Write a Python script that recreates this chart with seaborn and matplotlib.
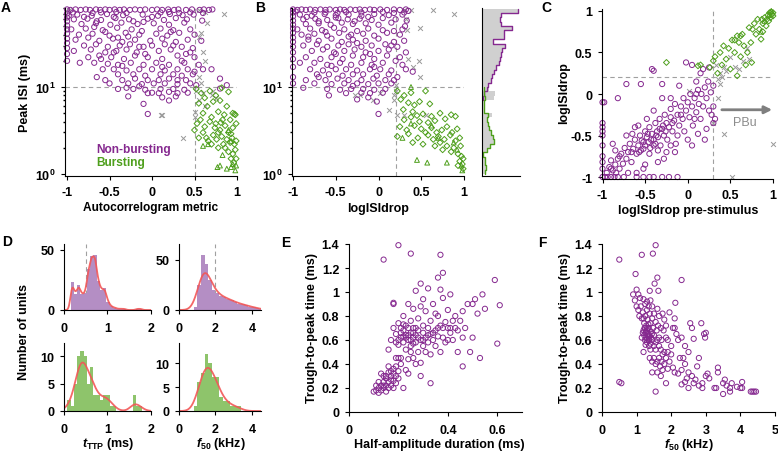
import numpy as np
import matplotlib
matplotlib.use('Agg')
import matplotlib.pyplot as plt
import seaborn as sns
from matplotlib.ticker import FuncFormatter, NullFormatter, LogLocator

# ---------------- DATA ----------------
# Panel A: (autocorrelogram metric, peak ISI ms)
A_NONBURST = [
    (-1,78),(-0.96,77),(-0.9,78),(-0.84,77),(-0.78,78),(-0.73,77),(-0.66,78),(-0.61,77),(-0.55,78),(-0.5,77),
    (-0.44,78),(-0.38,77),(-0.33,78),(-0.26,77),(-0.2,78),(-0.14,77),(-0.08,78),(0.0,77),(0.06,78),(0.12,77),
    (0.19,78),(0.26,77),(0.31,78),(0.4,77),(0.47,78),(0.56,77),(0.61,78),(0.67,77),(0.71,78),(-0.6,72),(-0.3,71),(0.1,72),
    (-1,70),(-1,63),(-1,57),(-1,51),(-1,46),(-1,41),(-1,36),(-1,32),(-1,28),(-1,24),(-1,20),(-0.98,66),
    (-0.88,68),(-0.71,66),(-0.53,69),(-0.34,67),(-0.11,68),(0.07,66),(0.21,69),(0.36,67),(0.49,68),
    (-0.92,60),(-0.76,61),(-0.6,59),(-0.43,62),(-0.27,60),(-0.05,61),(0.14,59),(0.28,62),(0.41,60),(0.59,58),
    (-0.83,53),(-0.66,54),(-0.49,52),(-0.36,55),(-0.17,53),(0.02,54),(0.2,52),(0.38,55),(-0.1,56),
    (-0.95,46),(-0.78,47),(-0.58,45),(-0.41,48),(-0.24,46),(-0.12,44),(0.1,47),(0.25,45),(0.45,46),(-0.68,49),
    (-0.86,40),(-0.7,41),(-0.5,39),(-0.31,42),(-0.15,40),(0.05,41),(0.18,39),(0.32,42),(0.5,40),(-0.4,37),
    (-0.9,35),(-0.62,34),(-0.46,36),(-0.35,33),(-0.2,35),(-0.02,34),(0.12,36),(0.28,33),(0.42,35),(0.58,34),
    (-0.8,30),(-0.66,31),(-0.52,29),(-0.38,30),(-0.26,31),(-0.1,29),(0.0,30),(0.15,31),(0.35,29),(0.48,28),
    (-0.92,26),(-0.72,27),(-0.55,25),(-0.42,26),(-0.3,27),(-0.18,25),(0.08,26),(0.22,27),(0.45,25),(-0.62,23),
    (-0.75,22),(-0.6,21),(-0.48,22),(-0.33,21),(-0.2,23),(-0.05,22),(0.12,21),(0.3,23),(0.5,22),(0.4,24),
    (-0.85,19),(-0.68,19),(-0.4,18),(-0.25,19),(-0.1,18),(0.05,19),(0.2,18),(0.38,19),(0.55,18),
    (-0.58,16),(-0.45,16),(-0.3,15.5),(-0.15,16),(0.0,16),(0.15,15.5),(0.3,16),(0.42,16),(0.6,16),(0.7,16),
    (-0.4,14),(-0.22,14),(-0.08,13.5),(0.1,14),(0.25,14),(0.35,13.5),(0.48,14),
    (-0.55,12),(-0.35,12),(-0.2,12.5),(-0.05,12),(0.08,12),(0.2,12.5),(0.4,12),(0.8,12.5),
    (-0.5,11),(-0.28,11),(-0.12,10.8),(0.02,11),(0.15,11),(0.3,10.8),(0.45,11),(0.88,10.5),
    (-0.4,9.5),(-0.22,9.5),(-0.08,9.3),(0.1,9.5),(0.25,9.5),(0.38,9.3),(0.8,9.6),
    (-0.05,8.5),(0.0,8.6),(0.08,8.5),(0.3,8.5),(0.42,8.6),(0.2,8.8),
    (-0.28,7.8),(0.12,7.6),(0.28,7.8),(-0.1,6.4),(0.2,7),(-0.05,4.9),
    (-0.93,72),(-0.8,64),(-0.65,57),(-0.45,64),(-0.22,57),(0.0,64),(0.32,71),(-0.55,43),(-0.28,38),(0.22,43),
    (-0.75,37),(-0.15,29),(0.25,30),(-0.45,25),(-0.08,24),(0.35,20),(-0.52,18.5),(0.12,17),(-0.35,17.5),(0.5,15),
    (-0.65,13),(0.3,12),(-0.15,10.2),(0.52,10.5),(-0.3,9.8),(-0.7,71),(-0.42,73),(0.2,73),(0.45,72),(0.6,71),
]
A_BURST_DIAMOND = [
    (0.52,9.5),(0.58,8.5),(0.62,7.5),(0.68,9),(0.75,8),(0.82,9.8),(0.9,8.8),(0.55,6.5),(0.65,6),(0.72,6.8),
    (0.8,7),(0.88,6),(0.95,5),(0.6,5),(0.7,4.5),(0.78,5.2),(0.85,4.8),(0.92,4.2),(0.98,4.8),(0.53,3.8),
    (0.62,3.5),(0.68,4),(0.75,3.8),(0.8,3.2),(0.86,3.6),(0.9,3),(0.95,3.4),(0.99,3.8),(0.55,2.6),(0.6,3),
    (0.66,2.4),(0.72,2.8),(0.76,2.5),(0.78,3),(0.82,2.7),(0.84,2.2),(0.88,2.5),(0.92,2.3),(0.94,2.6),(0.97,2.2),
    (0.7,2.2),(0.78,2),(0.86,2),(0.9,1.8),(0.95,1.7),(0.98,1.9),(0.93,1.5),(0.96,1.35),(0.99,1.5),(0.74,3.4),
    (0.83,4.2),(0.57,4.2),(0.5,3.2),(0.64,2.6),(0.97,4.9),(0.99,2.4),(0.93,2.9),(0.81,3.9),
]
A_BURST_TRI = [(0.77,1.2),(0.8,1.25),(0.88,1.15),(0.93,1.2),(0.95,1.3),(0.98,1.1),(0.99,1.25),
               (0.83,1.65),(0.6,2.1),(0.66,2.2),(0.93,2.4),(0.9,3.2)]
A_OTHER = [(-0.98,77),(0.55,77),(0.62,72),(0.85,70),(0.65,55),(0.58,42),(0.55,38),(0.6,25),(0.62,20),
           (0.55,13),(0.58,11),(0.52,9),(0.6,8.5),(0.7,8),(0.75,7.5),(0.55,7),(0.62,6),(0.5,5.2),(0.5,4.5),
           (0.1,4.8),(0.12,4.8),(0.37,2.6),(0.72,9)]

# Panel B: (logISIdrop, peak ISI ms)
B_NONBURST = [
    (-1,78),(-0.95,77),(-0.9,78),(-0.85,77),(-0.8,78),(-0.74,77),(-0.68,78),(-0.62,77),(-0.57,78),(-0.5,77),
    (-0.45,78),(-0.4,77),(-0.33,78),(-0.27,77),(-0.22,78),(-0.16,77),(-0.1,78),(-0.05,77),(0.02,78),(0.1,77),
    (0.18,78),(0.25,77),(0.32,78),(0.35,75),(-0.62,72),(-0.48,71),(-0.2,72),
    (-1,72),(-1,65),(-1,58),(-1,52),(-1,47),(-1,42),(-1,37),(-1,33),(-1,29),(-1,25),(-1,21),(-1,17),(-1,13),(-1,11),
    (-0.92,68),(-0.78,66),(-0.63,69),(-0.5,67),(-0.35,68),(-0.2,66),(-0.05,69),(0.12,67),(0.28,68),
    (-0.88,60),(-0.74,61),(-0.6,59),(-0.47,62),(-0.36,60),(-0.22,61),(-0.08,59),(0.05,62),(0.2,60),(0.33,58),
    (-0.85,53),(-0.7,54),(-0.56,52),(-0.43,55),(-0.3,53),(-0.15,54),(0.0,52),(0.15,55),(0.31,50),
    (-0.95,46),(-0.8,47),(-0.66,45),(-0.52,48),(-0.4,46),(-0.25,44),(-0.12,47),(0.05,45),(0.28,46),
    (-0.9,40),(-0.75,41),(-0.6,39),(-0.46,42),(-0.32,40),(-0.18,41),(-0.05,39),(0.1,42),(0.25,40),
    (-0.82,35),(-0.7,34),(-0.55,36),(-0.43,33),(-0.3,35),(-0.15,34),(0.0,36),(0.18,33),(0.3,34),
    (-0.88,30),(-0.72,31),(-0.6,29),(-0.47,30),(-0.35,31),(-0.2,29),(-0.08,30),(0.08,31),(0.22,29),
    (-0.78,26),(-0.65,27),(-0.52,25),(-0.4,26),(-0.28,27),(-0.15,25),(0.0,26),(0.12,27),(0.32,25),
    (-0.85,22),(-0.68,21),(-0.55,22),(-0.42,21),(-0.3,23),(-0.18,22),(-0.05,21),(0.1,23),(0.25,22),
    (-0.75,19),(-0.6,18),(-0.45,19),(-0.32,18),(-0.2,19),(-0.08,18),(0.05,19),(0.28,18),
    (-0.8,16),(-0.65,15.5),(-0.5,16),(-0.38,16),(-0.25,15.5),(-0.1,16),(0.02,16),(0.15,15.5),(0.32,16),
    (-0.72,14),(-0.58,14),(-0.42,13.5),(-0.3,14),(-0.18,14),(-0.02,13.5),(0.12,14),(0.22,13),
    (-0.85,12),(-0.62,12),(-0.48,12.5),(-0.35,12),(-0.2,12),(-0.06,12.5),(0.08,12),
    (-0.75,11),(-0.55,10.8),(-0.4,11),(-0.25,11),(-0.12,10.8),(0.0,11),(0.15,11),
    (-0.6,9.5),(-0.45,9.3),(-0.32,9.5),(-0.18,9.5),(-0.05,9.3),(0.08,9.5),
    (-0.38,8.5),(-0.2,8.6),(-0.1,8.5),(0.05,8.6),(-0.58,8),(-0.12,7.6),(-0.25,7.2),(-0.02,6.8),(0.0,4.9),
    (-0.97,74),(-0.84,64),(-0.7,57),(-0.5,63),(-0.28,57),(-0.12,64),(0.18,71),(-0.62,43),(-0.35,38),(0.18,44),
    (-0.82,38),(-0.25,32),(0.15,30),(-0.5,24),(-0.1,24),(0.2,20),(-0.55,17.5),(-0.05,17),(-0.92,19),(0.4,15),
    (-0.7,13),(0.18,12),(-0.3,10.3),(-0.88,9.8),(-0.75,72),(-0.38,73),(0.05,73),(0.3,72),
]
B_BURST_DIAMOND = [
    (0.22,9),(0.3,8),(0.38,8.6),(0.55,9),(0.26,7.2),(0.35,6.6),(0.42,6.2),(0.48,6.8),(0.6,6.4),(0.29,5.5),
    (0.4,5.2),(0.45,4.7),(0.52,4.9),(0.62,4.6),(0.72,5),(0.85,4.8),(0.3,4.2),(0.38,4.5),(0.48,4),(0.58,3.9),
    (0.66,4.1),(0.78,4.3),(0.9,4.6),(0.25,3.5),(0.33,3.2),(0.42,3.6),(0.5,3.3),(0.55,3.0),(0.62,3.4),(0.68,3.0),
    (0.74,3.2),(0.8,3.5),(0.86,3.0),(0.92,3.3),(0.22,2.7),(0.35,2.9),(0.46,2.6),(0.58,2.8),(0.64,2.5),(0.7,2.7),
    (0.77,2.5),(0.84,2.8),(0.9,2.4),(0.95,2.6),(0.4,2.3),(0.52,2.2),(0.66,2.1),(0.72,2.3),(0.8,2.1),(0.88,2.0),
    (0.96,2.1),(0.75,1.9),(0.85,1.8),(0.93,1.7),(0.97,1.6),(0.99,1.5),(0.95,1.4),(0.98,1.3),(0.99,1.15),(0.93,1.25),
]
B_BURST_TRI = [(0.38,10),(0.38,3.8),(0.62,3.6),(0.28,2.6),(0.88,2.3),(0.92,1.9),(0.45,1.45),(0.57,1.35),
               (0.8,1.35),(0.98,1.1),(0.97,1.25),(0.7,2.6)]
B_OTHER = [(0.3,77),(0.38,77),(0.64,77),(0.88,70),(0.33,45),(0.48,48),(0.35,21),(0.47,20),(0.4,17),(0.2,10.5),
           (-0.28,8),(-0.22,8),(-0.06,7),(0.02,8.5),(0.18,8.2),(0.12,5.5),(0.22,4.8),(0.3,4.8),(0.55,4.8),
           (0.48,13),(0.32,60),(0.2,9),(0.18,7)]

# Panel B marginal histogram: log10(peak ISI) bins of 0.05 decade
HIST_LOG_ISI_START = 0.0
HIST_BIN = 0.05
HIST_ALL = [8,12,10,8,4,14,24,35,32,27,22,18,14,30,6,5,6,35,38,22,
            19,26,30,36,42,50,55,57,62,70,32,68,66,92,56,54,58,109]
HIST_NONBURST_START = 0.85
HIST_NONBURST = [3,5,14,19,26,30,36,42,50,55,57,62,70,32,68,66,92,56,54,58,109]
HIST_BURST_START = 0.0
HIST_BURST = [8,12,10,8,4,14,24,35,32,27,22,18,14,19,6,5,6,9,6,5]

# Panel C: (logISIdrop pre-stimulus, logISIdrop)
C_NONBURST = [
    (-1,-1),(-0.97,-1),(-0.94,-1),(-0.9,-1),(-0.86,-1),(-0.82,-1),(-0.75,-1),(-0.6,-1),(-0.52,-1),(-0.45,-1),
    (-0.4,-1),(-0.3,-1),(-0.22,-1),(-0.12,-1),
    (-1,-0.9),(-1,-0.82),(-1,-0.75),(-1,-0.62),(-1,-0.5),(-1,-0.45),(-1,-0.4),(-1,-0.35),(-1,-0.1),
    (-0.95,-0.95),(-0.92,-0.88),(-0.9,-0.8),(-0.88,-0.92),(-0.85,-0.85),(-0.82,-0.78),(-0.8,-0.9),(-0.78,-0.72),
    (-0.76,-0.84),(-0.74,-0.65),(-0.72,-0.78),(-0.7,-0.7),(-0.68,-0.6),(-0.66,-0.82),(-0.64,-0.66),(-0.62,-0.55),
    (-0.6,-0.72),(-0.58,-0.62),(-0.56,-0.5),(-0.55,-0.68),(-0.52,-0.58),(-0.5,-0.45),(-0.5,-0.62),(-0.48,-0.52),
    (-0.46,-0.58),(-0.45,-0.4),(-0.44,-0.65),(-0.42,-0.48),(-0.4,-0.55),(-0.38,-0.35),(-0.38,-0.6),(-0.36,-0.45),
    (-0.35,-0.52),(-0.33,-0.3),(-0.32,-0.62),(-0.3,-0.42),(-0.28,-0.5),(-0.27,-0.25),(-0.25,-0.35),(-0.24,-0.55),
    (-0.22,-0.4),(-0.2,-0.28),(-0.2,-0.18),(-0.18,-0.45),(-0.16,-0.32),(-0.15,-0.12),(-0.14,-0.6),(-0.12,-0.25),
    (-0.1,-0.38),(-0.08,-0.15),(-0.06,-0.3),(-0.05,-0.05),(-0.04,-0.45),(-0.02,-0.2),(0.0,-0.1),(0.02,-0.28),
    (0.03,0.0),(0.05,-0.15),(0.06,-0.38),(0.08,-0.05),(0.1,-0.22),(0.12,0.05),(0.13,-0.12),(0.15,-0.3),(0.16,0.0),
    (0.18,-0.15),(0.2,0.08),(0.22,-0.05),(0.24,0.15),(0.25,-0.2),(0.27,0.02),(0.3,0.1),(0.28,-0.25),(0.3,-0.15),
    (0.32,-0.3),
    (-0.98,-0.1),(-0.82,-0.05),(-0.72,0.12),(-0.55,0.12),(-0.42,0.3),(-0.4,0.28),(-0.3,0.12),(-0.2,-0.05),
    (-0.1,0.1),(-0.02,0.38),(0.05,0.35),(0.1,0.15),(0.15,0.25),(0.18,0.3),(0.25,0.32),(-0.6,-0.95),(-0.52,-0.9),
    (-0.35,-0.82),(-0.5,-0.85),(-0.28,-0.78),(-0.25,-0.7),(-0.15,-0.7),(0.0,-0.55),(0.05,-0.62),(0.12,-0.48),
    (0.2,-0.55),(0.3,-0.35),(-0.7,-0.95),(-0.85,-0.68),(-0.62,-0.4),(-0.72,-0.5),(-0.88,-0.6),(0.22,-0.42),
    (-0.58,-0.38),(-0.48,-0.3),(-0.4,-0.2),(-0.3,-0.05),(-0.12,-0.5),(0.08,-0.3),(-0.65,-0.48),(-0.45,-0.72),
    (-0.35,-0.68),(0.1,0.0),(-0.2,-0.62),
    (-0.54,-0.56),(-0.47,-0.48),(-0.43,-0.55),(-0.37,-0.5),(-0.33,-0.42),(-0.29,-0.38),(-0.52,-0.66),(-0.57,-0.7),
    (-0.4,-0.62),(-0.26,-0.45),(-0.18,-0.35),(-0.08,-0.25),(-0.66,-0.7),(-0.8,-0.75),(-0.9,-0.9),(-0.84,-0.95),
]
C_BURST_DIAMOND = [
    (-0.25,0.38),(0.12,0.34),(0.15,0.35),(0.26,0.32),(0.3,0.4),(0.32,0.45),(0.35,0.25),(0.38,0.5),(0.4,0.35),
    (0.42,0.58),(0.45,0.42),(0.48,0.55),(0.5,0.3),(0.52,0.65),(0.55,0.5),(0.58,0.7),(0.6,0.62),(0.62,0.45),
    (0.64,0.72),(0.66,0.58),(0.68,0.35),(0.7,0.5),(0.72,0.8),(0.74,0.62),(0.75,0.38),(0.78,0.85),(0.8,0.72),
    (0.82,0.9),(0.84,0.78),(0.86,0.66),(0.88,0.85),(0.9,0.92),(0.92,0.82),(0.94,0.95),(0.95,0.88),(0.96,0.98),
    (0.97,0.92),(0.98,0.99),(0.99,0.96),(1.0,0.98),(1.0,0.94),(0.93,0.9),(0.87,0.9),(0.58,0.22),(0.62,0.7),
    (0.88,0.75),(0.76,0.78),(0.55,0.65),
]
C_BURST_TRI = [(0.86,0.75),(0.95,0.95),(0.98,1.0),(0.9,0.88)]
C_OTHER = [(0.33,0.35),(0.38,0.25),(0.4,0.2),(0.42,0.32),(0.36,0.18),(0.45,0.28),(0.5,0.45),(0.55,0.32),
           (0.6,0.3),(0.65,0.4),(0.7,0.55),(0.35,-0.05),(0.3,-0.35),(0.42,-0.48),(1.0,-0.6),(0.52,-1.0),
           (0.02,0.04),(0.38,0.12),(0.72,0.42)]

# Panel D: binned counts
TTP_BIN = 0.075
F50_BIN = 0.2
D_TTP_NONBURST_START = 0.15
D_TTP_NONBURST = [23,13,21,13,14,34,45,46,24,17,18,7,3,2,1,1,1,0,0,0,1,1]
D_F50_NONBURST_START = 0.8
D_F50_NONBURST = [3,25,55,46,30,20,17,14,13,11,10,8,6,6,5,3,3,2,1]
D_TTP_BURST_START = 0.075
D_TTP_BURST = [2,1,5,10,11,10,5,8,3,3,2,3,3,1,1,0,0,0,0,0,3,1,1]
D_F50_BURST_START = 0.8
D_F50_BURST = [1,6,8,12,10,7,7,3,2,2,1,1,1]

# Panel E: (half-amplitude duration ms, trough-to-peak ms)
E_UNITS = [
    (0.1,0.17),(0.11,0.18),(0.12,0.2),(0.12,0.16),(0.13,0.22),(0.13,0.18),(0.14,0.25),(0.14,0.2),(0.15,0.17),
    (0.15,0.22),(0.15,0.28),(0.16,0.2),(0.16,0.25),(0.16,0.33),(0.17,0.22),(0.17,0.3),(0.17,0.27),(0.18,0.26),
    (0.18,0.32),(0.18,0.36),(0.19,0.3),(0.19,0.38),(0.2,0.28),(0.2,0.34),(0.13,0.32),(0.12,0.25),(0.21,0.4),
    (0.16,0.38),(0.14,0.3),(0.11,0.22),(0.19,0.24),
    (0.16,0.52),(0.17,0.6),(0.18,0.7),(0.18,0.9),(0.19,0.65),(0.2,0.56),(0.2,0.74),(0.21,0.62),(0.21,0.45),
    (0.22,0.68),(0.22,0.8),(0.22,0.58),(0.23,0.52),(0.23,0.72),(0.23,0.64),(0.24,0.6),(0.24,0.9),(0.24,0.44),
    (0.25,0.66),(0.25,0.76),(0.25,0.55),(0.26,0.62),(0.26,0.86),(0.26,0.7),(0.27,0.58),(0.27,0.64),(0.27,1.01),
    (0.28,0.68),(0.28,0.5),(0.28,0.78),(0.29,0.6),(0.29,0.88),(0.29,0.41),(0.3,0.66),(0.3,0.72),(0.3,0.94),
    (0.3,0.55),(0.31,0.62),(0.31,0.84),(0.32,0.7),(0.32,0.58),(0.32,1.03),(0.33,0.65),(0.33,0.76),(0.33,0.48),
    (0.34,0.6),(0.34,0.9),(0.35,0.68),(0.35,0.55),(0.36,0.8),(0.36,0.63),(0.37,0.72),(0.37,1.02),(0.37,0.5),
    (0.38,0.62),(0.38,0.95),(0.38,0.7),(0.39,0.58),(0.4,0.7),(0.4,0.85),(0.41,0.66),(0.41,0.98),(0.42,0.76),
    (0.42,0.6),(0.43,0.8),(0.44,0.68),(0.45,0.76),(0.46,0.62),(0.46,0.84),(0.47,0.7),(0.48,0.9),(0.5,0.9),
    (0.5,0.62),(0.51,0.94),(0.52,0.82),(0.53,0.45),(0.54,0.98),(0.55,0.86),(0.49,0.5),(0.44,0.5),(0.46,0.38),
    (0.4,0.6),(0.36,0.7),(0.26,0.45),(0.27,0.4),(0.21,0.66),(0.2,0.6),(0.19,0.45),(0.23,0.35),(0.24,0.32),
    (0.22,0.2),(0.29,0.3),(0.33,0.24),(0.31,0.5),(0.35,0.82),(0.39,0.75),(0.28,0.62),(0.24,0.7),(0.26,0.57),
    (0.14,1.27),(0.2,1.39),(0.25,1.32),(0.37,1.31),(0.38,1.16),(0.36,1.12),(0.59,1.1),(0.61,0.89),(0.6,0.57),
    (0.18,0.91),(0.29,1.07),(0.2,0.45),(0.22,0.73),
    (0.23,0.62),(0.25,0.6),(0.26,0.66),(0.24,0.64),(0.22,0.63),(0.27,0.7),(0.21,0.7),(0.19,0.58),(0.25,0.5),
    (0.3,0.6),(0.32,0.64),(0.34,0.66),(0.43,0.7),(0.41,0.7),(0.15,0.3),(0.17,0.34),(0.14,0.22),(0.18,0.2),
]

# Panel F: (f50 kHz, trough-to-peak ms)
F_UNITS = [
    (0.5,1.27),(0.5,0.25),(0.56,0.24),(0.97,1.15),(1.15,1.31),(1.47,1.32),(1.55,1.39),(1.52,1.07),(1.6,1.12),
    (2.3,1.1),(1.63,1.01),(1.38,1.01),(1.0,1.02),(1.05,0.98),(0.9,0.98),(1.1,0.95),(1.2,0.94),(1.25,0.9),
    (1.3,0.92),(1.4,0.93),(1.45,0.88),(1.6,0.86),(1.75,0.82),(1.8,0.77),(1.05,0.85),(1.08,0.8),(1.12,0.88),
    (1.15,0.78),(1.18,0.83),(1.22,0.74),(1.25,0.8),(1.28,0.72),(1.3,0.85),(1.32,0.77),(1.35,0.7),(1.38,0.82),
    (1.4,0.74),(1.42,0.67),(1.45,0.78),(1.48,0.7),(1.5,0.64),(1.55,0.75),(1.58,0.68),(1.62,0.72),(1.65,0.62),
    (1.7,0.7),(1.72,0.6),(1.78,0.68),(1.85,0.72),(1.2,0.68),(1.22,0.64),(1.24,0.6),(1.26,0.66),(1.28,0.62),
    (1.3,0.58),(1.32,0.65),(1.34,0.6),(1.36,0.55),(1.38,0.63),(1.4,0.57),(1.42,0.62),(1.25,0.7),(1.3,0.68),
    (1.35,0.65),(1.15,0.62),(1.18,0.66),(1.45,0.6),(1.5,0.55),(1.55,0.58),(1.6,0.6),(1.65,0.55),(1.7,0.52),
    (1.75,0.48),(1.8,0.5),(1.5,0.45),(1.55,0.4),(1.6,0.42),(1.68,0.38),(1.72,0.42),(1.8,0.4),(1.85,0.45),
    (1.9,0.36),(1.95,0.42),(2.0,0.48),(1.9,0.6),(2.0,0.55),(2.05,0.7),(2.1,0.7),(2.15,0.65),(2.1,0.78),
    (2.12,0.91),(2.2,0.6),(2.05,0.37),(2.1,0.33),(2.2,0.32),(2.3,0.35),(2.35,0.45),(2.4,0.4),(2.25,0.45),
    (2.3,0.62),(2.4,0.55),(2.5,0.5),(2.55,0.74),(2.6,0.7),(2.65,0.61),(2.87,0.74),(2.95,0.65),(3.0,0.66),
    (2.98,0.62),(2.8,0.45),(2.75,0.38),(2.6,0.3),(2.5,0.33),(2.45,0.28),(2.4,0.25),(2.3,0.23),(2.5,0.2),
    (2.65,0.24),(2.7,0.27),(2.8,0.22),(2.9,0.24),(2.9,0.2),(3.0,0.3),(3.05,0.32),(3.1,0.28),(3.3,0.2),
    (3.25,0.2),(3.35,0.37),(3.35,0.33),(3.5,0.24),(3.55,0.27),(3.5,0.15),(3.6,0.22),(3.7,0.2),(3.7,0.17),
    (3.75,0.24),(3.9,0.21),(4.0,0.2),(4.05,0.25),(4.05,0.2),(4.3,0.17),(4.35,0.17),(4.4,0.17),(4.45,0.17),
    (1.55,0.17),(1.85,0.24),(1.45,0.33),(1.2,0.5),(1.45,0.42),(1.38,0.45),(1.65,0.45),(1.6,0.33),(1.7,0.3),
    (1.75,0.35),(1.2,0.78),(0.95,0.93),(1.0,0.88),(1.35,0.88),(1.5,0.82),(1.65,0.8),(1.85,0.62),(1.95,0.83),
    (1.4,0.52),(1.55,0.52),(1.9,0.5),
    (1.27,0.67),(1.33,0.63),(1.29,0.6),(1.31,0.7),(1.36,0.6),(1.26,0.56),(1.23,0.7),(1.34,0.73),(1.44,0.65),
]

# ---------------- STYLE ----------------
PURPLE = '#85288F'
GREEN = '#4E9F1C'
GRAY = '#999999'
LAV = '#B48EC4'
LGREEN = '#8EC46B'
RED = '#F25757'
DASH = '#A0A0A0'

sns.set_theme(style='ticks')
plt.rcParams.update({
    'font.family': ['Liberation Sans', 'DejaVu Sans'],
    'font.weight': 'bold',
    'axes.labelweight': 'bold',
    'font.size': 9,
    'xtick.labelsize': 9,
    'ytick.labelsize': 9,
    'axes.edgecolor': 'black',
    'axes.linewidth': 0.8,
    'text.color': 'black',
    'axes.labelcolor': 'black',
    'xtick.color': 'black',
    'ytick.color': 'black',
    'xtick.major.size': 3,
    'ytick.major.size': 3,
    'xtick.minor.size': 1.5,
    'ytick.minor.size': 1.5,
    'xtick.major.width': 0.8,
    'ytick.major.width': 0.8,
    'xtick.major.pad': 4,
    'ytick.major.pad': 4,
    'xtick.direction': 'out',
    'ytick.direction': 'out',
    'axes.unicode_minus': False,
    'mathtext.fontset': 'custom',
    'mathtext.rm': 'Liberation Sans:bold',
    'mathtext.it': 'Liberation Sans:bold:italic',
    'mathtext.bf': 'Liberation Sans:bold',
})

W, H = 778, 456
fig = plt.figure(figsize=(W / 100, H / 100), dpi=100)


def rect(l, t, r, b):
    return [l / W, 1 - b / H, (r - l) / W, (b - t) / H]


def gfmt(v, p):
    return f'{v:g}'


def xy(pts):
    return [p[0] for p in pts], [p[1] for p in pts]


def scat(ax, pts, color, marker, s, lw=0.7):
    x, y = xy(pts)
    if marker == 'x':
        sns.scatterplot(x=x, y=y, ax=ax, marker='x', color=color, s=s, linewidth=lw, clip_on=False)
    else:
        sns.scatterplot(x=x, y=y, ax=ax, marker=marker, s=s, color=color,
                        facecolor='none', edgecolor=color, linewidth=lw, clip_on=False)


def basic(ax):
    sns.despine(ax=ax)
    ax.xaxis.set_major_formatter(FuncFormatter(gfmt))
    ax.yaxis.set_major_formatter(FuncFormatter(gfmt))


def dash_h(ax, y):
    ax.axhline(y, color=DASH, lw=0.8, ls=(0, (4, 3)), zorder=0)


def dash_v(ax, x):
    ax.axvline(x, color=DASH, lw=0.8, ls=(0, (4, 3)), zorder=0)


def logaxis(ax):
    ax.set_yscale('log')
    ax.set_ylim(0.948, 81)
    ax.set_yticks([1, 10], labels=[r'$\mathbf{10^0}$', r'$\mathbf{10^1}$'])
    ax.yaxis.set_minor_locator(LogLocator(base=10, subs=np.arange(2, 10)))
    ax.yaxis.set_minor_formatter(NullFormatter())


def step_edges(start, binw, n):
    return [float(start + binw * k) for k in range(n + 1)]


# ---------------- PANEL A ----------------
axA = fig.add_axes(rect(65, 9, 237, 177))
basic(axA)
dash_h(axA, 10)
dash_v(axA, 0.5)
scat(axA, A_OTHER, GRAY, 'x', 12)
scat(axA, A_NONBURST, PURPLE, 'o', 14)
scat(axA, A_BURST_DIAMOND, GREEN, 'D', 9)
scat(axA, A_BURST_TRI, GREEN, '^', 12)
axA.set_xlim(-1.024, 1.0)
axA.set_xticks([-1, -0.5, 0, 0.5, 1])
logaxis(axA)
fig.text(96 / W, 1 - 150 / H, 'Non-bursting', color=PURPLE, fontsize=8.6, va='center')
fig.text(96 / W, 1 - 163 / H, 'Bursting', color=GREEN, fontsize=8.6, va='center')

# ---------------- PANEL B ----------------
axB = fig.add_axes(rect(292, 9, 464, 177))
basic(axB)
dash_h(axB, 10)
dash_v(axB, 0.2)
scat(axB, B_OTHER, GRAY, 'x', 12)
scat(axB, B_NONBURST, PURPLE, 'o', 14)
scat(axB, B_BURST_DIAMOND, GREEN, 'D', 9)
scat(axB, B_BURST_TRI, GREEN, '^', 12)
axB.set_xlim(-1.012, 1.0)
axB.set_xticks([-1, -0.5, 0, 0.5, 1])
logaxis(axB)

axM = fig.add_axes(rect(482, 9, 520, 177))
sns.despine(ax=axM)
e_all = step_edges(HIST_LOG_ISI_START, HIST_BIN, len(HIST_ALL))
sns.histplot(y=[v + HIST_BIN / 2 for v in e_all[:-1]], weights=HIST_ALL, bins=e_all, element='step',
             fill=True, color='#D0D0D0', alpha=1, linewidth=0, ax=axM)
e_nb = step_edges(HIST_NONBURST_START, HIST_BIN, len(HIST_NONBURST))
sns.histplot(y=[v + HIST_BIN / 2 for v in e_nb[:-1]], weights=HIST_NONBURST, bins=e_nb, element='step',
             fill=False, color=PURPLE, linewidth=1.0, ax=axM)
e_b = step_edges(HIST_BURST_START, HIST_BIN, len(HIST_BURST))
sns.histplot(y=[v + HIST_BIN / 2 for v in e_b[:-1]], weights=HIST_BURST, bins=e_b, element='step',
             fill=False, color=GREEN, linewidth=1.0, ax=axM)
axM.set_ylim(np.log10(0.948), np.log10(81))
axM.set_xlim(0, 115)
axM.set_xticks([])
axM.set_yticks([])
axM.set_xlabel('')
axM.set_ylabel('')

# ---------------- PANEL C ----------------
axC = fig.add_axes(rect(602, 10, 773, 180))
basic(axC)
dash_h(axC, 0.2)
dash_v(axC, 0.3)
scat(axC, C_OTHER, GRAY, 'x', 12)
scat(axC, C_NONBURST, PURPLE, 'o', 14)
scat(axC, C_BURST_DIAMOND, GREEN, 'D', 9)
scat(axC, C_BURST_TRI, GREEN, '^', 12)
axC.set_xlim(-1.006, 1.0)
axC.set_ylim(-1.024, 1.024)
axC.set_xticks([-1, -0.5, 0, 0.5, 1])
axC.set_yticks([-1, -0.5, 0, 0.5, 1])
axC.annotate('', xy=(0.99, -0.19), xytext=(0.4, -0.19),
             arrowprops=dict(arrowstyle='-|>', color='#7F7F7F', lw=2, mutation_scale=11, shrinkA=0, shrinkB=0))
axC.text(0.67, -0.34, 'PBu', color='#8C8C8C', fontsize=9, fontweight='normal', ha='center', va='center')


# ---------------- PANEL D ----------------
def dhist(ax, start, binw, counts, fill, bw, xlim, ylim, xticks, yticks, vline=None):
    edges = step_edges(start, binw, len(counts))
    sns.histplot(x=[v + binw / 2 for v in edges[:-1]], weights=counts, bins=edges, kde=True,
                 kde_kws={'bw_adjust': bw, 'cut': 5}, color=fill, alpha=1, linewidth=0,
                 line_kws={'linewidth': 1.3}, ax=ax)
    ax.lines[-1].set_color(RED)
    ax.lines[-1].set_alpha(0.9)
    basic(ax)
    if vline is not None:
        dash_v(ax, vline)
    ax.set_xlim(*xlim)
    ax.set_ylim(*ylim)
    ax.set_xticks(xticks)
    ax.set_yticks(yticks)
    ax.set_xlabel('')
    ax.set_ylabel('')
    ax.tick_params(axis='x', pad=6)


axD1 = fig.add_axes(rect(64, 245, 151, 311))
dhist(axD1, D_TTP_NONBURST_START, TTP_BIN, D_TTP_NONBURST, LAV, 0.25, (0, 2), (0, 55), [0, 1, 2], [0, 50], 0.5)
axD2 = fig.add_axes(rect(179, 245, 261, 311))
dhist(axD2, D_F50_NONBURST_START, F50_BIN, D_F50_NONBURST, LAV, 0.55, (0, 4.5), (0, 66), [0, 2, 4], [0, 50], 2)
axD3 = fig.add_axes(rect(64, 344, 151, 412))
dhist(axD3, D_TTP_BURST_START, TTP_BIN, D_TTP_BURST, LGREEN, 0.45, (0, 2), (0, 12.4), [0, 1, 2], [0, 5, 10])
axD4 = fig.add_axes(rect(179, 344, 261, 412))
dhist(axD4, D_F50_BURST_START, F50_BIN, D_F50_BURST, LGREEN, 0.8, (0, 4.5), (0, 14.2), [0, 2, 4], [0, 5, 10])

# ---------------- PANEL E ----------------
axE = fig.add_axes(rect(349, 245, 522, 413))
basic(axE)
scat(axE, E_UNITS, PURPLE, 'o', 14)
axE.set_xlim(0, 0.7)
axE.set_ylim(0, 1.4)
axE.set_xticks([0, 0.2, 0.4, 0.6])
axE.set_yticks([0, 0.2, 0.4, 0.6, 0.8, 1, 1.2, 1.4])
axE.tick_params(axis='x', pad=5.5)

# ---------------- PANEL F ----------------
axF = fig.add_axes(rect(602, 245, 775, 413))
basic(axF)
scat(axF, F_UNITS, PURPLE, 'o', 14)
axF.set_xlim(0, 5)
axF.set_ylim(0, 1.4)
axF.set_xticks([0, 1, 2, 3, 4, 5])
axF.set_yticks([0, 0.2, 0.4, 0.6, 0.8, 1, 1.2, 1.4])
axF.tick_params(axis='x', pad=5.5)


# ---------------- LABELS ----------------
def ftext(x, y, s, **kw):
    kw.setdefault('ha', 'center')
    kw.setdefault('va', 'center')
    fig.text(x / W, 1 - y / H, s, **kw)


ftext(25, 93, 'Peak ISI (ms)', rotation=90)
ftext(151, 208, 'Autocorrelogram metric', fontsize=8.6)
ftext(378, 209, 'logISIdrop')
ftext(564, 93, 'logISIdrop', rotation=90)
ftext(688, 211, 'logISIdrop pre-stimulus')
ftext(24, 332, 'Number of units', rotation=90)
ftext(108, 447, r'$t_{\mathrm{TTP}}$ (ms)', va='baseline')
ftext(221, 447, r'$f_{50}$ (kHz)', va='baseline')
ftext(312, 328, 'Trough-to-peak time (ms)', rotation=90)
ftext(439, 445, 'Half-amplitude duration (ms)')
ftext(565, 328, 'Trough-to-peak time (ms)', rotation=90)
ftext(689, 448, r'$f_{50}$ (kHz)', va='baseline')

for lab, x, y in [('A', 1, 1), ('B', 255, 1), ('C', 541, 1), ('D', 2, 235), ('E', 281, 236), ('F', 538, 236)]:
    ftext(x, y, lab, ha='left', va='top', fontsize=10)

fig.savefig('out.png', dpi=100)
